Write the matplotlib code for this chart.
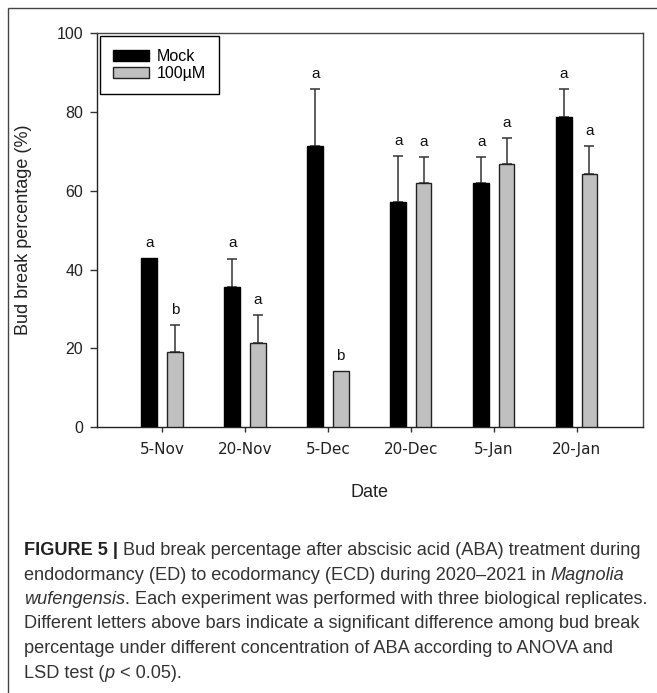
import matplotlib
matplotlib.use("Agg")
import matplotlib.pyplot as plt
import numpy as np
from matplotlib.patches import Rectangle

# --- data ---
dates = ["5-Nov", "20-Nov", "5-Dec", "20-Dec", "5-Jan", "20-Jan"]
mock = [42.9, 35.7, 71.4, 57.2, 62.0, 78.6]
mock_err = [0.0, 7.1, 14.3, 11.5, 6.5, 7.1]
aba = [19.0, 21.5, 14.3, 62.0, 66.7, 64.2]
aba_err = [6.9, 7.0, 0.0, 6.5, 6.7, 7.1]
mock_letters = ["a", "a", "a", "a", "a", "a"]
aba_letters = ["b", "a", "b", "a", "a", "a"]
series_names = ["Mock", "100\u00b5M"]

W, H = 657, 693
ARIAL = "Liberation Sans"

fig = plt.figure(figsize=(W / 100, H / 100), dpi=100)
fig.patch.set_facecolor("white")


def px(x, y):
    """pixel coords (from top-left) -> figure fraction"""
    return x / W, 1 - y / H


# outer frame of the figure panel
fig.add_artist(Rectangle(px(8, 700), (700 - 8) / W, (700 - 8) / H,
                         transform=fig.transFigure, fill=False,
                         edgecolor="#444", linewidth=1.0, clip_on=False))

ax_top, ax_bot = 33.0, 427.3
ax = fig.add_axes([96.7 / W, 1 - ax_bot / H, (642.7 - 96.7) / W, (ax_bot - ax_top) / H])

x = np.arange(len(dates))
bw = 0.19
off = 0.153

b1 = ax.bar(x - off, mock, bw, color="black", edgecolor="black", linewidth=1.0,
            label=series_names[0], zorder=3)
b2 = ax.bar(x + off, aba, bw, color="#c0c0c0", edgecolor="#222", linewidth=1.0,
            label=series_names[1], zorder=3)

for xs, vals, errs in ((x - off, mock, mock_err), (x + off, aba, aba_err)):
    vals = np.asarray(vals)
    errs = np.asarray(errs)
    keep = errs > 0
    ax.errorbar(xs[keep], vals[keep], yerr=[np.zeros(keep.sum()), errs[keep]],
                fmt="none", ecolor="#333", elinewidth=1.1, capsize=3.9,
                capthick=1.1, zorder=2)

for xs, vals, errs, lets in ((x - off, mock, mock_err, mock_letters),
                             (x + off, aba, aba_err, aba_letters)):
    for xi, v, e, l in zip(xs, vals, errs, lets):
        ax.text(xi, v + e + 2.8, l, ha="center", va="baseline",
                fontsize=11, family=ARIAL, color="#111")

ax.set_xlim(-0.788, 5.795)
ax.set_ylim(0, 100)
ax.set_yticks([0, 20, 40, 60, 80, 100])
ax.set_xticks(x)
ax.set_xticklabels(dates, family="DejaVu Sans", fontsize=11, color="#222")
for lab in ax.get_yticklabels():
    lab.set_family(ARIAL)
    lab.set_fontsize(11.5)
ax.tick_params(axis="y", direction="out", length=5.3, width=1.0, pad=4.5, colors="#333")
ax.tick_params(axis="x", direction="out", length=3.8, width=1.0, pad=6.5, colors="#333")
for lab in ax.get_xticklabels() + ax.get_yticklabels():
    lab.set_color("#222")
for s in ax.spines.values():
    s.set_color("#444")
    s.set_linewidth(1.0)
ax.spines["left"].set_color("#222")
ax.spines["bottom"].set_color("#222")

ax.set_ylabel("Bud break percentage (%)", family=ARIAL, fontsize=13, color="#222")
ax.yaxis.set_label_coords(32 / W, 1 - (ax_top + ax_bot) / 2 / H, transform=fig.transFigure)
fig.text(369.5 / W, 1 - 492.7 / H, "Date", family=ARIAL, fontsize=13,
         ha="center", va="center", color="#222")

leg = ax.legend(handles=[b1, b2], loc="upper left", fancybox=False,
                edgecolor="black", framealpha=1, prop={"family": ARIAL, "size": 11.5},
                handlelength=2.25, handleheight=0.72, handletextpad=0.5,
                borderaxespad=0.2, borderpad=0.8, labelspacing=0.15)
leg.get_frame().set_linewidth(1.0)

# --- caption, drawn segment by segment so styles can mix within a line ---
cap_lines = [
    [("FIGURE 5 |", "bold"), (" Bud break percentage after abscisic acid (ABA) treatment during", "normal")],
    [("endodormancy (ED) to ecodormancy (ECD) during 2020\u20132021 in ", "normal"), ("Magnolia", "italic")],
    [("wufengensis", "italic"), (". Each experiment was performed with three biological replicates.", "normal")],
    [("Different letters above bars indicate a significant difference among bud break", "normal")],
    [("percentage under different concentration of ABA according to ANOVA and", "normal")],
    [("LSD test (", "normal"), ("p", "italic"), (" < 0.05).", "normal")],
]
cap_size = 13.05
cap_x0 = 24
cap_y0 = 555
cap_dy = 24.5
renderer = fig.canvas.get_renderer()


def seg_width(s, style):
    kw = dict(family=ARIAL, fontsize=cap_size)
    if style == "bold":
        kw["weight"] = "bold"
    elif style == "italic":
        kw["style"] = "italic"
    # pad with 'x' so leading/trailing spaces are measured
    t1 = fig.text(0, 0, "x" + s + "x", **kw)
    t2 = fig.text(0, 0, "xx", **kw)
    w = t1.get_window_extent(renderer).width - t2.get_window_extent(renderer).width
    t1.remove()
    t2.remove()
    return w, kw


for i, line in enumerate(cap_lines):
    xp = cap_x0
    yp = cap_y0 + i * cap_dy
    for s, style in line:
        w, kw = seg_width(s, style)
        fig.text(xp / W, 1 - yp / H, s, ha="left", va="baseline",
                 color="#222" if style == "bold" else "#333", **kw)
        xp += w

fig.savefig("out.png", dpi=100, facecolor="white")
